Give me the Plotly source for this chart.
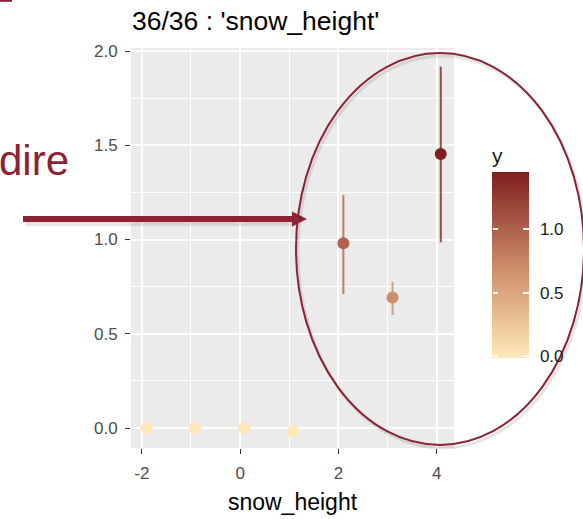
import plotly.graph_objects as go
from plotly.colors import sample_colorscale

# Effect of snow height on the response (mean and interval per level)
snow_height = [-1.9, -0.92, 0.08, 1.07, 2.10, 3.10, 4.08]
y_mean = [0.0, 0.0, 0.0, -0.016, 0.98, 0.693, 1.454]
y_upper = [0.0, 0.0, 0.0, -0.016, 1.236, 0.776, 1.917]
y_lower = [0.0, 0.0, 0.0, -0.016, 0.711, 0.600, 0.985]

x_ticks = [-2, 0, 2, 4]
y_ticks = [0.0, 0.5, 1.0, 1.5, 2.0]
cbar_ticks = [0.0, 0.5, 1.0]

W, H = 583, 519
L, R, T, B = 131, 454, 48, 448  # panel edges in pixels
ACCENT = "#8B2335"

# colour bar geometry (pixels)
CB_LEFT, CB_W = 492, 37
CB_TOP, CB_BOTTOM = 171, 358
CB_TITLE_H = 27

colorscale = [[0.0, "#FFE8B9"], [0.5, "#CB8A68"], [1.0, "#7E1F1F"]]
clear_scale = [[0.0, "rgba(0,0,0,0)"], [1.0, "rgba(0,0,0,0)"]]
cmin, cmax = min(y_mean), max(y_mean)


def px_x(p):
    return (p - L) / (R - L)


def px_y(p):
    return (B - p) / (B - T)


def tick_fmt(v):
    return f"{v:.1f}"


fig = go.Figure()

# interval bars, one per level, in the level's colour
for xv, lo, hi, yv in zip(snow_height, y_lower, y_upper, y_mean):
    if hi - lo <= 0:
        continue
    col = sample_colorscale(colorscale, [(yv - cmin) / (cmax - cmin)], colortype="rgb")[0]
    fig.add_trace(go.Scatter(
        x=[xv, xv], y=[lo, hi], mode="lines",
        line=dict(color=col, width=2), opacity=0.8,
        showlegend=False, hoverinfo="skip",
    ))

cb_len = (CB_BOTTOM - CB_TOP) + CB_TITLE_H


def colorbar(left, thickness, title_color, **tick_opts):
    return dict(
        title=dict(text="y", side="top", font=dict(size=21, color=title_color)),
        thickness=thickness, thicknessmode="pixels",
        len=cb_len, lenmode="pixels",
        x=px_x(left), xanchor="left", xref="paper",
        y=px_y(CB_BOTTOM), yanchor="bottom", yref="paper",
        outlinewidth=0, ypad=0, xpad=0,
        tickvals=cbar_ticks, ticktext=[tick_fmt(v) for v in cbar_ticks],
        tickfont=dict(size=17, color="#1a1a1a"),
        **tick_opts,
    )


# the points, coloured by y, with the colour bar and its labels
fig.add_trace(go.Scatter(
    x=snow_height, y=y_mean, mode="markers",
    marker=dict(
        size=12, color=y_mean, colorscale=colorscale, cmin=cmin, cmax=cmax,
        line=dict(width=0),
        colorbar=colorbar(CB_LEFT, CB_W, "#1a1a1a",
                          ticks="outside", ticklen=8, tickcolor="rgba(0,0,0,0)"),
    ),
    showlegend=False,
))

# white tick marks on the right edge of the colour bar
fig.add_trace(go.Scatter(
    x=snow_height, y=y_mean, mode="markers", hoverinfo="skip", showlegend=False,
    marker=dict(
        size=1, opacity=0, color=y_mean, colorscale=clear_scale, cmin=cmin, cmax=cmax,
        colorbar=colorbar(CB_LEFT, CB_W, "rgba(0,0,0,0)", showticklabels=False,
                          ticks="inside", ticklen=6, tickcolor="white", tickwidth=1.5),
    ),
))

# white tick marks on the left edge of the colour bar
fig.add_trace(go.Scatter(
    x=snow_height, y=y_mean, mode="markers", hoverinfo="skip", showlegend=False,
    marker=dict(
        size=1, opacity=0, color=y_mean, colorscale=clear_scale, cmin=cmin, cmax=cmax,
        colorbar=colorbar(CB_LEFT, 1, "rgba(0,0,0,0)", showticklabels=False,
                          ticks="outside", ticklen=5, tickcolor="white", tickwidth=1.5),
    ),
))

shapes = []
# shadowed arrow pointing at the highlighted levels
shapes.append(dict(type="line", xref="paper", yref="paper",
                   x0=px_x(25), x1=px_x(296), y0=px_y(223), y1=px_y(223),
                   line=dict(color="rgba(0,0,0,0.10)", width=6)))
shapes.append(dict(type="line", xref="paper", yref="paper",
                   x0=px_x(23), x1=px_x(294), y0=px_y(219), y1=px_y(219),
                   line=dict(color=ACCENT, width=6)))
shapes.append(dict(type="path", xref="paper", yref="paper",
                   path=(f"M {px_x(292)} {px_y(211.5)} L {px_x(307)} {px_y(219)} "
                         f"L {px_x(292)} {px_y(226.5)} Z"),
                   fillcolor=ACCENT, line=dict(width=0)))
# ellipse around the three upper levels, with a soft shadow
shapes.append(dict(type="circle", xref="paper", yref="paper",
                   x0=px_x(298), x1=px_x(586), y0=px_y(56), y1=px_y(448),
                   line=dict(color="rgba(0,0,0,0.10)", width=3)))
shapes.append(dict(type="circle", xref="paper", yref="paper",
                   x0=px_x(296), x1=px_x(584), y0=px_y(53), y1=px_y(445),
                   line=dict(color=ACCENT, width=2)))
# edge of a mark at the top-left corner
shapes.append(dict(type="line", xref="paper", yref="paper",
                   x0=px_x(0), x1=px_x(12), y0=px_y(0.8), y1=px_y(0.8),
                   line=dict(color=ACCENT, width=2)))

fig.update_layout(
    width=W, height=H,
    margin=dict(l=L, r=W - R, t=T, b=H - B, pad=0, autoexpand=False),
    paper_bgcolor="white",
    plot_bgcolor="#EBEBEB",
    font=dict(family="Liberation Sans, Arial, sans-serif"),
    title=dict(text="36/36 : 'snow_height'", x=px_x(132), xref="paper", xanchor="left",
               y=1 - 21 / H, yref="container", yanchor="middle",
               font=dict(size=26.5, color="black")),
    shapes=shapes,
    annotations=[dict(text="dire", xref="paper", yref="paper",
                      x=px_x(71), y=px_y(160), xanchor="right", yanchor="middle",
                      showarrow=False, font=dict(size=42, color=ACCENT))],
)

fig.update_xaxes(
    range=[-2.22, 4.35], tickvals=x_ticks, ticktext=[str(v) for v in x_ticks],
    showgrid=True, gridcolor="white", gridwidth=1.6, zeroline=False,
    minor=dict(dtick=1, tick0=-1, showgrid=True, gridcolor="white", gridwidth=0.7, ticks=""),
    ticks="outside", ticklen=5, tickcolor="#333333", tickwidth=1.2,
    ticklabelstandoff=5, automargin=False,
    tickfont=dict(size=17, color="#4D4D4D"), showline=False,
    title=dict(text="snow_height", font=dict(size=23, color="black"), standoff=11),
)
fig.update_yaxes(
    range=[-0.106, 2.016], tickvals=y_ticks, ticktext=[tick_fmt(v) for v in y_ticks],
    showgrid=True, gridcolor="white", gridwidth=1.6, zeroline=False,
    minor=dict(dtick=0.25, tick0=0.25, showgrid=True, gridcolor="white", gridwidth=0.7, ticks=""),
    ticks="outside", ticklen=5, tickcolor="#333333", tickwidth=1.2,
    ticklabelstandoff=4, automargin=False,
    tickfont=dict(size=17, color="#4D4D4D"), showline=False,
)

fig.write_html("out.html")
